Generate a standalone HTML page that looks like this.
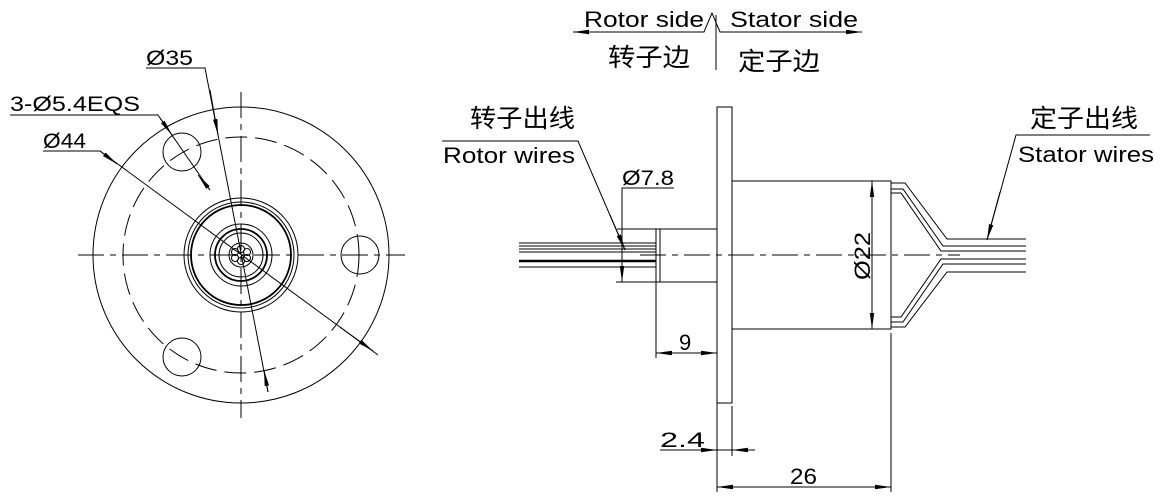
<!DOCTYPE html>
<html><head><meta charset="utf-8"><style>
html,body{margin:0;padding:0;background:#fff;}
svg{display:block;}
text{font-family:"Liberation Sans","Noto Sans CJK SC",sans-serif;fill:#000;}
</style></head><body>
<svg width="1163" height="499" viewBox="0 0 1163 499" xmlns="http://www.w3.org/2000/svg">
<defs>
<marker id="a" markerWidth="16" markerHeight="6" refX="16" refY="3" orient="auto" markerUnits="userSpaceOnUse"><path d="M0,0.8 L16,3 L0,5.2 Z" fill="#000"/></marker>
</defs>
<g stroke="#000" fill="none" stroke-width="1">
<!-- LEFT VIEW -->
<line x1="78" y1="255" x2="405" y2="255" stroke-dasharray="26,6,6,6"/>
<line x1="241" y1="92" x2="241" y2="418" stroke-dasharray="26,6,6,6"/>
<circle cx="241" cy="255" r="148"/>
<circle cx="241" cy="255" r="118" stroke-dasharray="22,8"/>
<circle cx="360" cy="255" r="19"/>
<circle cx="182" cy="152" r="19"/>
<circle cx="182" cy="357" r="19"/>
<circle cx="241" cy="255" r="57"/>
<circle cx="241" cy="255" r="53"/>
<circle cx="241" cy="255" r="50" stroke-width="1.8"/>
<circle cx="241" cy="255" r="31"/>
<circle cx="241" cy="255" r="26" stroke-width="1.8"/>
<circle cx="241" cy="255" r="22"/>
<circle cx="241" cy="255" r="12"/>
<circle cx="241" cy="249" r="3.5"/><circle cx="241" cy="261" r="3.5"/>
<circle cx="235" cy="252" r="3.5"/><circle cx="247" cy="252" r="3.5"/>
<circle cx="235" cy="258" r="3.5"/><circle cx="247" cy="258" r="3.5"/>
<!-- leaders -->
<polyline points="146,68 205,68 268,392"/>
<line x1="210" y1="90" x2="218" y2="135" marker-end="url(#a)"/>
<line x1="268" y1="392" x2="264" y2="370" marker-end="url(#a)"/>
<polyline points="10,115 158,115 210,190"/>
<line x1="160" y1="118" x2="172" y2="135" marker-end="url(#a)"/>
<line x1="210" y1="190" x2="198" y2="175" marker-end="url(#a)"/>
<polyline points="43,151 100,151 378,355"/>
<line x1="100" y1="151" x2="117" y2="164" marker-end="url(#a)"/>
<line x1="340" y1="327" x2="373" y2="351" marker-end="url(#a)"/>

<!-- TOP SIDE MARKER -->
<polyline points="573,32 704,32 712,13 720,32 860,32"/>
<line x1="600" y1="32" x2="573" y2="32" marker-end="url(#a)"/>
<line x1="835" y1="32" x2="862" y2="32" marker-end="url(#a)"/>
<line x1="716" y1="15" x2="716" y2="70"/>

<!-- SIDE VIEW -->
<line x1="640" y1="255" x2="960" y2="255" stroke-dasharray="26,6,6,6"/>
<rect x="717" y="107" width="15" height="296"/>
<rect x="732" y="181" width="159" height="148"/>
<rect x="656" y="229" width="61" height="53"/>
<line x1="660" y1="229" x2="660" y2="282"/>
<line x1="519" y1="243" x2="656" y2="243"/>
<line x1="519" y1="246" x2="656" y2="246"/>
<line x1="519" y1="249" x2="656" y2="249"/>
<line x1="519" y1="252" x2="656" y2="252"/>
<line x1="519" y1="261" x2="656" y2="261" stroke-width="2.5"/>
<line x1="519" y1="267" x2="656" y2="267"/>
<!-- stator wires -->
<polyline points="891,183 905,183 947,239 1026,239"/>
<polyline points="891,189 903,189 943,246 1026,246"/>
<polyline points="891,193 901,193 941,251 1026,251"/>
<polyline points="891,317 901,317 941,259 1026,259"/>
<polyline points="891,322 903,322 943,264 1026,264"/>
<polyline points="891,327 905,327 947,272 1026,272"/>
<!-- stator leader -->
<polyline points="1150,135 1016,135 987,240"/>
<line x1="1000" y1="192" x2="987" y2="240" marker-end="url(#a)"/>
<!-- rotor leader -->
<polyline points="442,141 578,141 625,250"/>
<line x1="610" y1="215" x2="625" y2="250" marker-end="url(#a)"/>
<!-- Ø7.8 -->
<polyline points="674,188 622,188 622,282"/>
<line x1="617" y1="229" x2="656" y2="229"/>
<line x1="616" y1="282" x2="656" y2="282"/>
<line x1="622" y1="260" x2="622" y2="282" marker-end="url(#a)"/>
<!-- Ø22 -->
<line x1="872" y1="181" x2="872" y2="329"/>
<line x1="872" y1="210" x2="872" y2="181" marker-end="url(#a)"/>
<line x1="872" y1="300" x2="872" y2="329" marker-end="url(#a)"/>
<!-- 9 -->
<line x1="656" y1="282" x2="656" y2="358"/>
<line x1="686" y1="353" x2="656" y2="353" marker-end="url(#a)"/>
<line x1="686" y1="353" x2="717" y2="353" marker-end="url(#a)"/>
<!-- 2.4 -->
<line x1="732" y1="406" x2="732" y2="456"/>
<line x1="717" y1="403" x2="717" y2="492"/>
<line x1="660" y1="450" x2="755" y2="450"/>
<line x1="690" y1="450" x2="717" y2="450" marker-end="url(#a)"/>
<line x1="755" y1="450" x2="732" y2="450" marker-end="url(#a)"/>
<!-- 26 -->
<line x1="891" y1="333" x2="891" y2="492"/>
<line x1="800" y1="487" x2="717" y2="487" marker-end="url(#a)"/>
<line x1="800" y1="487" x2="891" y2="487" marker-end="url(#a)"/>
</g>
<g font-size="21">
<text x="146" y="65" textLength="47" lengthAdjust="spacingAndGlyphs">Ø35</text>
<text x="10" y="111" textLength="130" lengthAdjust="spacingAndGlyphs">3-Ø5.4EQS</text>
<text x="43" y="148" textLength="43" lengthAdjust="spacingAndGlyphs">Ø44</text>
<text x="584" y="27" font-size="22" textLength="120" lengthAdjust="spacingAndGlyphs">Rotor side</text>
<text x="730" y="27" font-size="22" textLength="128" lengthAdjust="spacingAndGlyphs">Stator side</text>
<text x="608" y="66" font-size="25" textLength="82" lengthAdjust="spacingAndGlyphs">转子边</text>
<text x="738" y="70" font-size="25" textLength="82" lengthAdjust="spacingAndGlyphs">定子边</text>
<text x="470" y="127" font-size="25" textLength="105" lengthAdjust="spacingAndGlyphs">转子出线</text>
<text x="443" y="163" font-size="22" textLength="132" lengthAdjust="spacingAndGlyphs">Rotor wires</text>
<text x="1030" y="127" font-size="25" textLength="108" lengthAdjust="spacingAndGlyphs">定子出线</text>
<text x="1018" y="162" font-size="22" textLength="136" lengthAdjust="spacingAndGlyphs">Stator wires</text>
<text x="622" y="185" textLength="52" lengthAdjust="spacingAndGlyphs">Ø7.8</text>
<text x="679" y="350" font-size="22">9</text>
<text x="660" y="447" textLength="45" lengthAdjust="spacingAndGlyphs">2.4</text>
<text x="790" y="484" font-size="22" textLength="27" lengthAdjust="spacingAndGlyphs">26</text>
<text transform="translate(870,256) rotate(-90)" text-anchor="middle" font-size="22" textLength="48" lengthAdjust="spacingAndGlyphs">Ø22</text>
</g>
<line x1="622" y1="188" x2="674" y2="188" stroke="#000"/>
<line x1="660" y1="450" x2="705" y2="450" stroke="#000"/>
</svg>
</body></html>
